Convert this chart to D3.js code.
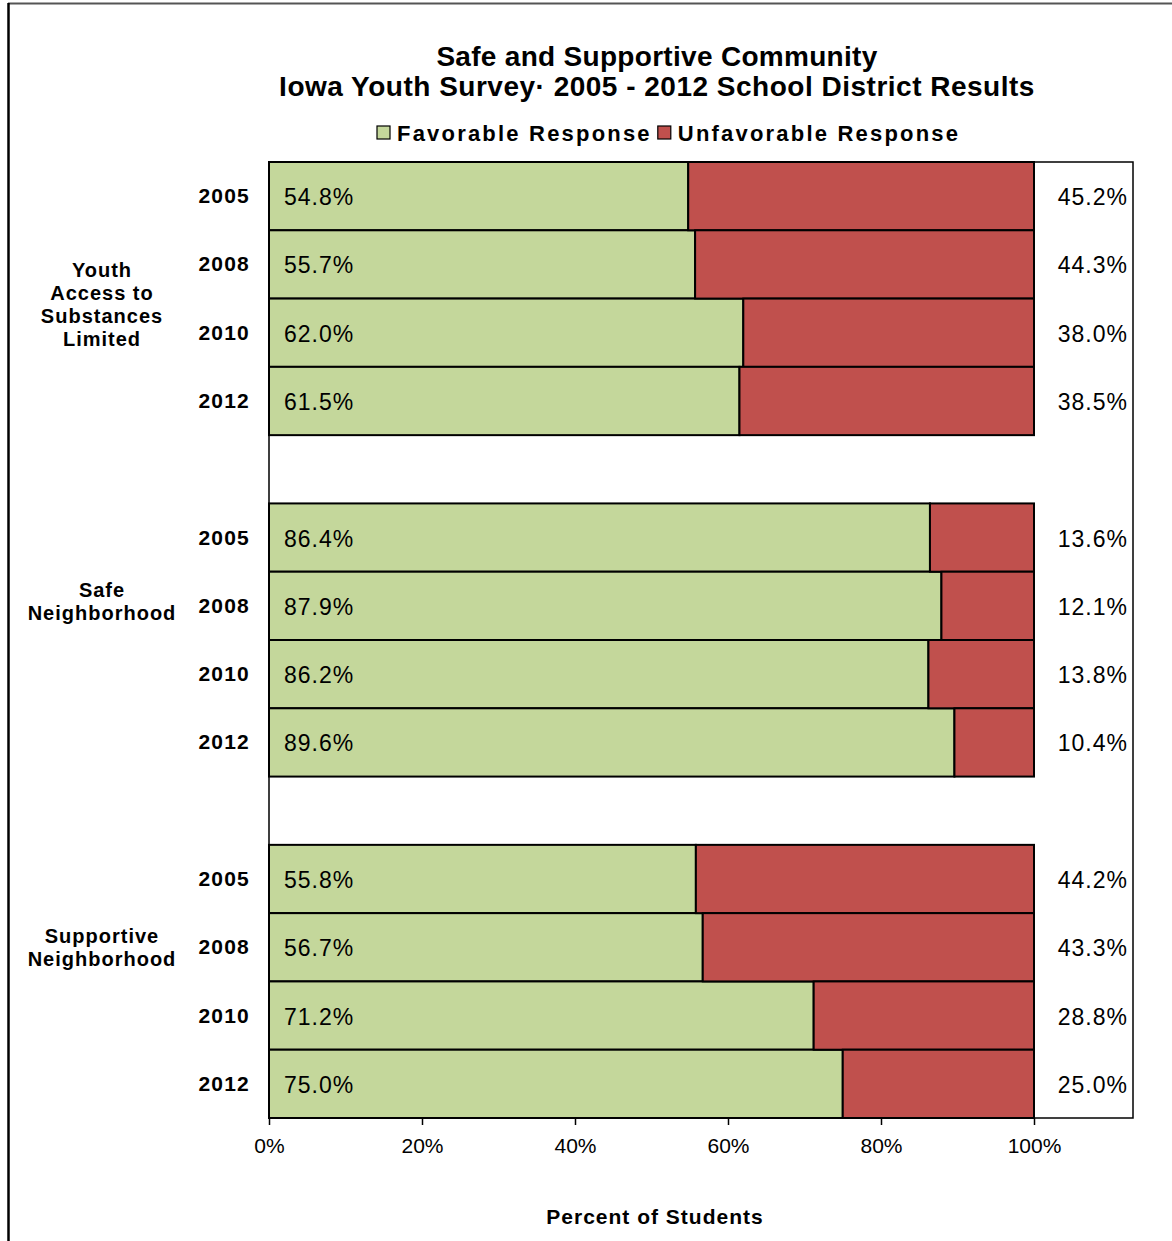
<!DOCTYPE html>
<html>
<head>
<meta charset="utf-8">
<script src="https://cdn.jsdelivr.net/npm/d3@7/dist/d3.min.js"></script>
<style>
  body { margin: 0; background: #fff; }
  text { font-family: "Liberation Sans", Arial, sans-serif; fill: #000; }
</style>
</head>
<body>
<div id="container"></div>
<script>
'use strict'

// data
const groups = ['Youth Access to Substances Limited', 'Safe Neighborhood', 'Supportive Neighborhood'];
const groupLines = [['Youth', 'Access to', 'Substances', 'Limited'], ['Safe', 'Neighborhood'], ['Supportive', 'Neighborhood']];
const years = ['2005', '2008', '2010', '2012'];
const favorable = [
  [54.8, 55.7, 62.0, 61.5],
  [86.4, 87.9, 86.2, 89.6],
  [55.8, 56.7, 71.2, 75.0]
];
const unfavorable = [
  [45.2, 44.3, 38.0, 38.5],
  [13.6, 12.1, 13.8, 10.4],
  [44.2, 43.3, 28.8, 25.0]
];
const xTicks = [0, 20, 40, 60, 80, 100];

const w = 1172, h = 1241;
const green = '#c4d79b', red = '#c0504d';

// rows: 4 per group, one empty slot between groups
const rows = [];
groups.forEach(function(g, gi) {
  years.forEach(function(y, yi) {
    rows.push({key: gi + '-' + yi, group: gi, year: y, fav: favorable[gi][yi], unf: unfavorable[gi][yi]});
  });
  if (gi < groups.length - 1) rows.push({key: 'gap' + gi, gap: true});
});

const plotLeft = 269, plotRight = 1133, plotTop = 162, plotBottom = 1118;

const xScale = d3.scaleLinear().domain([0, 100]).range([plotLeft, 1034]);
const yScale = d3.scaleBand().domain(rows.map(r => r.key)).range([plotTop, plotBottom]).padding(0);

const svg = d3.select('#container').append('svg')
  .attr('width', w).attr('height', h);

// outer chart frame (only top and left edges are visible in the shot)
svg.append('line').attr('x1', 8).attr('x2', w).attr('y1', 3.5).attr('y2', 3.5)
  .attr('stroke', '#555').attr('stroke-width', 2);
svg.append('line').attr('x1', 8.5).attr('x2', 8.5).attr('y1', 3).attr('y2', h)
  .attr('stroke', '#000').attr('stroke-width', 2.5);

// titles
svg.append('text').text('Safe and Supportive Community')
  .attr('x', 657).attr('y', 66).attr('text-anchor', 'middle')
  .style('font-size', '28px').style('font-weight', 'bold').style('letter-spacing', '0.3px');
svg.append('text').text('Iowa Youth Survey\u00b7 2005 - 2012 School District Results')
  .attr('x', 657).attr('y', 96).attr('text-anchor', 'middle')
  .style('font-size', '28px').style('font-weight', 'bold').style('letter-spacing', '0.5px');

// legend, laid out left to right
const legend = svg.append('g');
let lx = 377;
[['Favorable Response', green], ['Unfavorable Response', red]].forEach(function(d) {
  legend.append('rect').attr('x', lx).attr('y', 126).attr('width', 13).attr('height', 13)
    .attr('fill', d[1]).attr('stroke', '#000').attr('stroke-width', 1.2);
  const t = legend.append('text').text(d[0]).attr('x', lx + 20).attr('y', 141)
    .style('font-size', '22px').style('font-weight', 'bold').style('letter-spacing', '2.2px');
  lx = lx + 20 + t.node().getComputedTextLength() + 6;
});

const dataRows = rows.filter(r => !r.gap);

// plot area frame
svg.append('rect').attr('x', plotLeft).attr('y', plotTop)
  .attr('width', plotRight - plotLeft).attr('height', plotBottom - plotTop)
  .attr('fill', 'none').attr('stroke', '#000').attr('stroke-width', 1.5);

// bars
svg.selectAll('rect.fav').data(dataRows).enter().append('rect')
  .attr('class', 'fav')
  .attr('x', xScale(0)).attr('y', d => yScale(d.key))
  .attr('width', d => xScale(d.fav) - xScale(0)).attr('height', yScale.bandwidth())
  .attr('fill', green).attr('stroke', '#000').attr('stroke-width', 2);

svg.selectAll('rect.unf').data(dataRows).enter().append('rect')
  .attr('class', 'unf')
  .attr('x', d => xScale(d.fav)).attr('y', d => yScale(d.key))
  .attr('width', d => xScale(100) - xScale(d.fav)).attr('height', yScale.bandwidth())
  .attr('fill', red).attr('stroke', '#000').attr('stroke-width', 2);

// value labels
svg.selectAll('text.favlab').data(dataRows).enter().append('text')
  .attr('x', xScale(0) + 15).attr('y', d => yScale(d.key) + yScale.bandwidth() / 2 + 9)
  .style('font-size', '23px').style('letter-spacing', '1px')
  .text(d => d.fav.toFixed(1) + '%');

svg.selectAll('text.unflab').data(dataRows).enter().append('text')
  .attr('x', 1128).attr('y', d => yScale(d.key) + yScale.bandwidth() / 2 + 9)
  .attr('text-anchor', 'end')
  .style('font-size', '23px').style('letter-spacing', '1px')
  .text(d => d.unf.toFixed(1) + '%');

// year labels
svg.selectAll('text.year').data(dataRows).enter().append('text')
  .attr('x', 250).attr('y', d => yScale(d.key) + yScale.bandwidth() / 2 + 7)
  .attr('text-anchor', 'end')
  .style('font-size', '21px').style('font-weight', 'bold').style('letter-spacing', '1.2px')
  .text(d => d.year);

// group labels, placed near each group's 2008 row as in the original
const groupShift = [40, -4, 0];
groupLines.forEach(function(lines, gi) {
  const mid = yScale(gi + '-1') + yScale.bandwidth() / 2 + groupShift[gi];
  const lh = 23;
  lines.forEach(function(l, li) {
    svg.append('text').text(l)
      .attr('x', 102).attr('y', mid - (lines.length - 1) * lh / 2 + li * lh + 7)
      .attr('text-anchor', 'middle')
      .style('font-size', '20px').style('font-weight', 'bold').style('letter-spacing', '1px');
  });
});

// x axis
const xAxis = d3.axisBottom(xScale).tickValues(xTicks).tickFormat(d => d + '%').tickSize(7).tickPadding(13);
const ax = svg.append('g').attr('transform', 'translate(0,' + plotBottom + ')').call(xAxis);
ax.select('.domain').remove();
ax.selectAll('line').attr('stroke', '#000').attr('stroke-width', 1.5);
ax.selectAll('text').style('font-size', '21px')
  .style('font-family', '"Liberation Sans Narrow", "Liberation Sans", Arial, sans-serif');

svg.append('text').text('Percent of Students')
  .attr('x', 655).attr('y', 1224).attr('text-anchor', 'middle')
  .style('font-size', '21px').style('font-weight', 'bold').style('letter-spacing', '1px');
</script>
</body>
</html>
